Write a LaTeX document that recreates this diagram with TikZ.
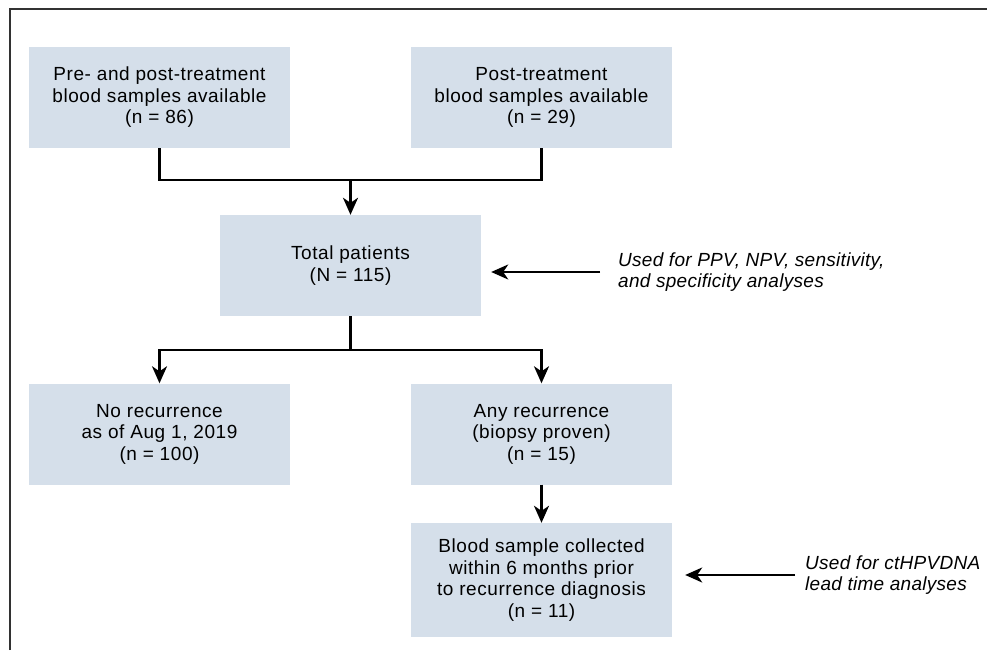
\documentclass[tikz,border=0pt]{standalone}
\usepackage{fontspec}
\setmainfont{Liberation Sans}[LetterSpace=3]
\newfontfamily\notefont{Liberation Sans}[LetterSpace=1.5]
\usetikzlibrary{arrows.meta}
\definecolor{boxfill}{RGB}{213,223,234}
\definecolor{framecol}{RGB}{50,50,50}
\begin{document}
\begin{tikzpicture}[x=1pt,y=-1pt,
  box/.style={fill=boxfill, draw=none, minimum width=261pt, minimum height=101pt,
    align=center, inner sep=0pt, font=\fontsize{19}{21.5}\selectfont},
  note/.style={anchor=west, align=left, inner sep=0pt, font=\notefont\fontsize{19}{21.5}\selectfont\itshape},
  conn/.style={line width=2.2pt, black},
  arr/.style={conn, -{Stealth[length=17pt,width=15pt,inset=5pt]}}]
\useasboundingbox (0,0) rectangle (987,650);
% frame
\coordinate (fl) at (10,650);
\coordinate (fc) at (10,9);
\coordinate (fr) at (987,9);
\draw[framecol, line width=1.6pt] (fl) -- (fc) -- (fr);
% boxes
\node[box] (b1) at (159.5,97.5) {Pre- and post-treatment\\blood samples available\\(n = 86)};
\node[box] (b2) at (541.5,97.5) {Post-treatment\\blood samples available\\(n = 29)};
\node[box] (tot) at (350.5,265.5) {Total patients\\(N = 115)};
\node[box] (nr) at (159.5,434) {No recurrence\\as of Aug 1, 2019\\(n = 100)};
\node[box] (ar) at (541.5,434) {Any recurrence\\(biopsy proven)\\(n = 15)};
\node[box, minimum height=114pt] (bs) at (541.5,580) {Blood sample collected\\within 6 months prior\\to recurrence diagnosis\\(n = 11)};
% notes
\node[note] (a1) at (618,272) {Used for PPV, NPV, sensitivity,\\and specificity analyses};
\node[note] (a2) at (805,575) {Used for ctHPVDNA\\lead time analyses};
% connectors
\coordinate (j1) at (350.5,180);
\coordinate (j2) at (350.5,350);
\draw[conn] (b1.south) |- (j1) -| (b2.south);
\draw[arr] (j1) -- (tot.north);
\draw[conn] (tot.south) -- (j2);
\draw[arr] (j2) -| (nr.north);
\draw[arr] (j2) -| (ar.north);
\draw[arr] (ar.south) -- (bs.north);
\draw[arr, shorten <=18pt, shorten >=10pt] (a1.west) -- (a1.west -| tot.east);
\draw[arr, shorten <=10pt, shorten >=13pt] (a2.west) -- (a2.west -| bs.east);
\end{tikzpicture}
\end{document}
